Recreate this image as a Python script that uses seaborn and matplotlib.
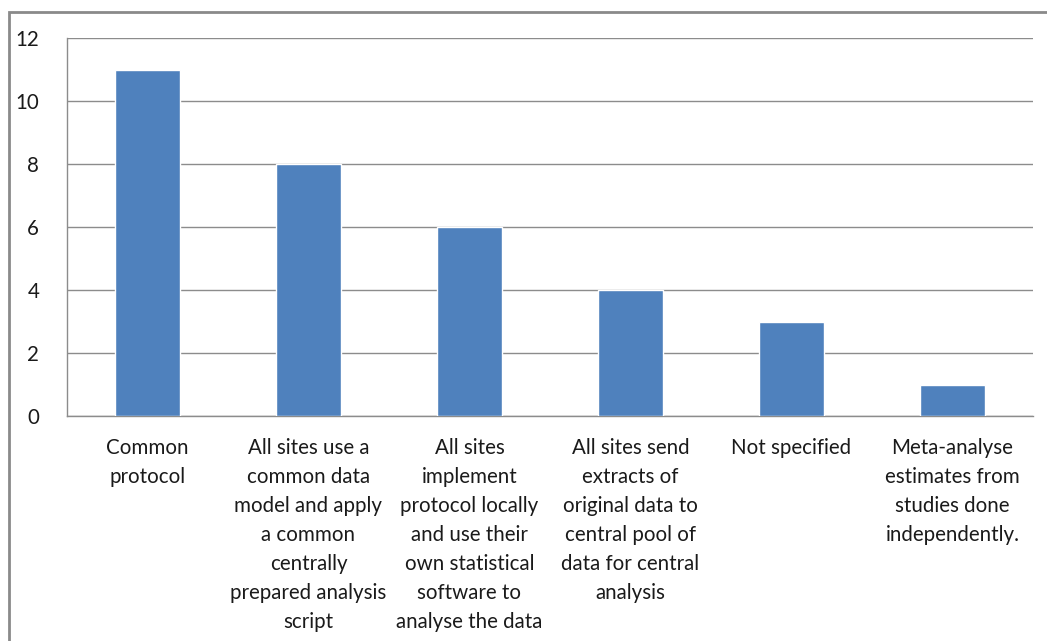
import matplotlib
matplotlib.use("Agg")
import matplotlib.pyplot as plt
import seaborn as sns
import pandas as pd
from matplotlib.patches import Rectangle

categories = [
    "Common\nprotocol",
    "All sites use a\ncommon data\nmodel and apply\na common\ncentrally\nprepared analysis\nscript",
    "All sites\nimplement\nprotocol locally\nand use their\nown statistical\nsoftware to\nanalyse the data",
    "All sites send\nextracts of\noriginal data to\ncentral pool of\ndata for central\nanalysis",
    "Not specified",
    "Meta-analyse\nestimates from\nstudies done\nindependently.",
]
counts = [11, 8, 6, 4, 3, 1]
y_ticks = [0, 2, 4, 6, 8, 10, 12]

sns.set_theme(style="white")
plt.rcParams["font.family"] = ["Lato", "DejaVu Sans"]

df = pd.DataFrame({"category": categories, "count": counts})

fig = plt.figure(figsize=(10.47, 6.41), dpi=100)
ax = fig.add_axes([0.064, 0.351, 0.9226, 0.5897])

sns.barplot(data=df, x="category", y="count", color="#4F81BD", saturation=1,
            width=0.4, ax=ax, zorder=3)

ax.set_ylim(0, 12)
ax.set_yticks(y_ticks)
ax.set_yticklabels([str(v) for v in y_ticks])
ax.yaxis.grid(True, color="#8C8C8C", linewidth=1.0, zorder=0)
ax.set_axisbelow(True)
ax.set_xlabel("")
ax.set_ylabel("")

for side in ["top", "right"]:
    ax.spines[side].set_visible(False)
for side in ["left", "bottom"]:
    ax.spines[side].set_color("#8C8C8C")
    ax.spines[side].set_linewidth(1.0)

ax.tick_params(axis="both", length=0, labelsize=14.8, colors="#1A1A1A")
ax.tick_params(axis="y", pad=20)
ax.tick_params(axis="x", pad=16)
ax.set_xticks(range(len(categories)))
ax.set_xticklabels(categories, linespacing=1.56, ha="center", va="top")

# Outer chart frame
fig.patches.append(Rectangle((9 / 1047, -0.05), 1.2, 1 - 12 / 641 + 0.05,
                             transform=fig.transFigure, fill=False,
                             edgecolor="#8A8A8A", linewidth=2.0))

fig.savefig("out.png", dpi=100)
